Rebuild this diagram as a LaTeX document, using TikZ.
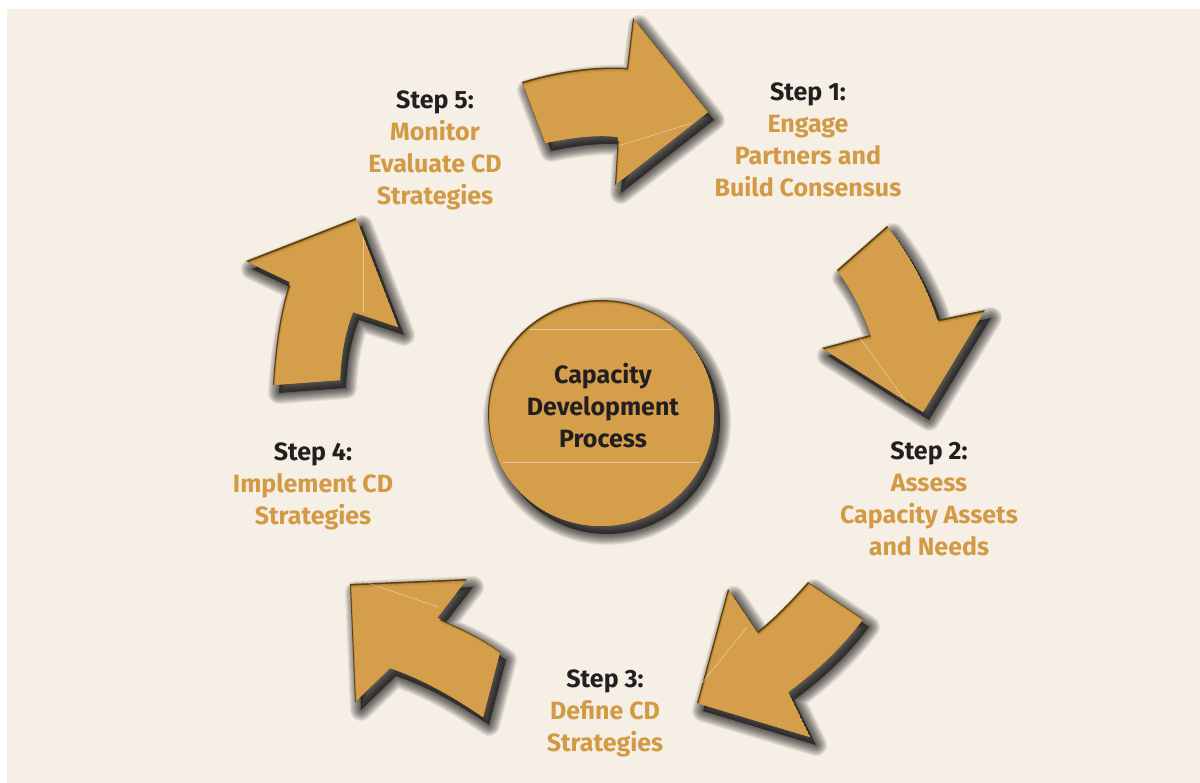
\documentclass[tikz,border=0pt]{standalone}
\usepackage{fontspec}
\setmainfont{Fira Sans}
\definecolor{bg}{HTML}{F6EFE6}
\definecolor{gold}{HTML}{D59E4A}
\definecolor{goldtext}{HTML}{D29A45}
\definecolor{edge}{HTML}{5E400C}
\definecolor{ink}{HTML}{231F20}
\newcommand\cdshape[1]{%
  \foreach \w in {22,20,18,16,14,12,10,8,6,4,2}{%
    \draw[black,opacity=0.075,line width=\w pt,line join=round,shift={(6,8)}] #1;}
  \fill[black,opacity=0.55,shift={(6,8)}] #1;
  \begin{scope}
    \clip #1;
    \fill[edge] #1;
    \fill[gold!70!edge,shift={(1,1.5)}] #1;
    \fill[gold!90!edge,shift={(1.5,2.5)}] #1;
    \fill[gold,shift={(2,4)}] #1;
  \end{scope}}
\tikzset{
  steplbl/.style={font=\bfseries\fontsize{25}{32}\selectfont,align=center,text=goldtext,inner sep=0pt},
  seam/.style={draw=white,opacity=0.45,line width=0.6pt}
}
\begin{document}
\begin{tikzpicture}[x=1pt,y=-1pt]
\fill[white] (0,0) rectangle (1200,783);
\fill[bg] (7,9) rectangle (1200,783);
\useasboundingbox (0,0) rectangle (1200,783);
% arrow 1 (top, pointing right)
\cdshape{(522,82) .. controls (560,70) and (600,66) .. (627,68) -- (633,18) -- (708,112) -- (615,185) -- (618,137) .. controls (596,134) and (570,138) .. (545,143) -- cycle}
\draw[seam] (618,146) -- (692,123);
% arrow 2 (right, pointing down-right)
\cdshape{(837,270) -- (887,226) .. controls (910,255) and (928,290) .. (937,320) -- (985,310) -- (923,412) -- (822,348) -- (870,335) .. controls (862,310) and (852,290) .. (837,270) -- cycle}
\draw[seam] (860,338) -- (907,403);
% arrow 3 (bottom right, pointing down-left)
\cdshape{(808,582) -- (863,619) .. controls (840,650) and (815,672) .. (788,692) -- (810,737) -- (697,703) -- (728,589) -- (757,632) .. controls (775,618) and (792,600) .. (808,582) -- cycle}
\draw[seam] (747,627) -- (702,683);
% arrow 4 (bottom left, pointing up-left)
\cdshape{(350,584) -- (467,579) -- (437,618) .. controls (460,628) and (482,638) .. (500,652) -- (483,717) .. controls (455,698) and (425,680) .. (390,668) -- (355,702) -- cycle}
\draw[seam] (368,583) -- (438,607);
% arrow 5 (left, pointing up)
\cdshape{(356,218) -- (398,327) -- (353,312) .. controls (345,332) and (341,355) .. (340,380) -- (273,385) .. controls (275,350) and (280,310) .. (290,282) -- (246,261) -- cycle}
\draw[seam] (363,237) -- (363,312);
% centre disc
\cdshape{(601,413) circle[radius=113]}
\begin{scope}
  \clip (601,413) circle[radius=110];
  \draw[seam] (480,329) -- (720,329);
  \draw[seam] (480,462) -- (720,462);
\end{scope}
\node[steplbl,text=ink] (centre) at (603,406) {Capacity\\Development\\Process};
% labels
\node[steplbl] (s1) at (808,140) {\textcolor{ink}{Step 1:}\\Engage\\Partners and\\Build Consensus};
\node[steplbl] (s2) at (929,499) {\textcolor{ink}{Step 2:}\\Assess\\Capacity Assets\\and Needs};
\node[steplbl] (s3) at (605,713) {\textcolor{ink}{Step 3:}\\Define CD\\Strategies};
\node[steplbl] (s4) at (313,486) {\textcolor{ink}{Step 4:}\\Implement CD\\Strategies};
\node[steplbl] (s5) at (435,150) {\textcolor{ink}{Step 5:}\\Monitor\\Evaluate CD\\Strategies};
\end{tikzpicture}
\end{document}
